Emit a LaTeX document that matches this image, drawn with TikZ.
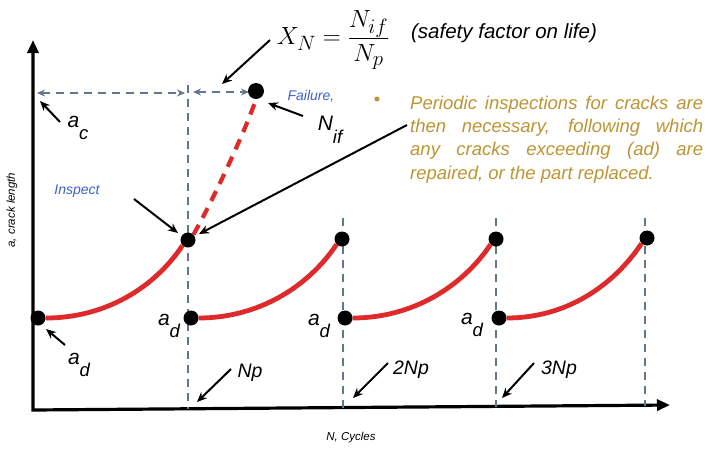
\documentclass[tikz,border=0pt]{standalone}
\usepackage{fontspec}
\setmainfont{Liberation Sans}
\usetikzlibrary{arrows.meta}
\definecolor{dashc}{RGB}{100,118,142}
\definecolor{crack}{RGB}{222,42,42}
\definecolor{gold}{RGB}{188,148,52}
\definecolor{lblue}{RGB}{62,96,205}
\newcommand\lsub[2]{#1\raisebox{-0.6em}{\fontsize{18.5}{18.5}\selectfont #2}}
\begin{document}
\begin{tikzpicture}[x=1pt,y=-1pt,
  dot/.style={circle,fill=black,inner sep=0pt,minimum size=15pt},
  guide/.style={draw=dashc,line width=2.5pt,dash pattern=on 8pt off 6pt},
  guidearrow/.style={guide,{Stealth[length=8pt,width=7pt]}-{Stealth[length=8pt,width=7pt]}},
  crackline/.style={draw=crack,line width=4.8pt},
  crackdash/.style={draw=crack,line width=4.2pt,dash pattern=on 11pt off 8pt},
  pointer/.style={draw=black,line width=2pt,-{Stealth[length=10pt,width=8.5pt]}},
  axisline/.style={line width=3.2pt,line join=miter,{Triangle[length=13pt,width=11pt]}-{Triangle[length=13pt,width=11pt]}},
  lab/.style={inner sep=0pt,font=\fontsize{21}{23}\selectfont\itshape},
  nplab/.style={inner sep=0pt,font=\fontsize{19.5}{21}\selectfont\itshape},
  bluelab/.style={inner sep=0pt,text=lblue,font=\fontsize{14}{15}\selectfont\itshape},
  smalllab/.style={inner sep=0pt,font=\fontsize{11.5}{12}\selectfont\itshape}]
\useasboundingbox (0,0) rectangle (710,448);

% axes
\coordinate (O) at (33,410);
\coordinate (ytip) at (33,40);
\coordinate (xtip) at (670,405);
\draw[axisline] (ytip) -- (O) -- (xtip);

% guide coordinates
\coordinate (g1t) at (188,85);  \coordinate (g1b) at (188,408.5);
\coordinate (g2t) at (343,218); \coordinate (g2b) at (343,407.5);
\coordinate (g3t) at (496,218); \coordinate (g3b) at (496,406.5);
\coordinate (g4t) at (645,218); \coordinate (g4b) at (645,405.5);
\draw[guide] (g1t) -- (g1b);
\draw[guide] (g2t) -- (g2b);
\draw[guide] (g3t) -- (g3b);
\draw[guide] (g4t) -- (g4b);

\coordinate (acL) at (37,93);
\coordinate (acR) at (185,93);
\coordinate (xnL) at (193,92);
\coordinate (xnR) at (249,92);
\draw[guidearrow] (acL) -- (acR);
\draw[guidearrow] (xnL) -- (xnR);

% dots
\node[dot] (d0) at (38,318) {};
\node[dot] (p1) at (188,240) {};
\node[dot] (d1) at (191,318) {};
\node[dot] (p2) at (342,239) {};
\node[dot] (d2) at (345,318) {};
\node[dot] (p3) at (496,239) {};
\node[dot] (d3) at (499,318) {};
\node[dot] (p4) at (647,238) {};
\node[dot,minimum size=16pt] (fail) at (256,91) {};

% crack curves
\draw[crackline] (d0.east) .. controls +(60,0) and +(-28,42) .. (p1.south west);
\draw[crackline] (d1.east) .. controls +(60,0) and +(-28,42) .. (p2.south west);
\draw[crackline] (d2.east) .. controls +(60,0) and +(-28,42) .. (p3.south west);
\draw[crackline] (d3.east) .. controls +(60,0) and +(-28,42) .. (p4.south west);
\draw[crackdash] (p1.north east) .. controls +(20,-35) and +(-10,30) .. (fail.south);

% formula and texts
\node[inner sep=0pt,font=\fontsize{28}{30}\selectfont] (xn) at (333,40) {$\displaystyle X_N=\frac{N_{if}}{N_p}$};
\node[inner sep=0pt,font=\fontsize{20.5}{22}\selectfont\itshape] (sf) at (504,33) {(safety factor on life)};
\node[circle,fill=gold,inner sep=0pt,minimum size=5pt] (gd) at (377,99) {};
\node[anchor=north west,inner sep=0pt,text width=293pt,align=justify,text=gold,
  font=\fontsize{18.5}{23.4}\selectfont\itshape] (para) at (410,95.5)
  {\hyphenpenalty=10000 Periodic inspections for cracks are\linebreak then necessary, following which\linebreak any cracks exceeding (ad) are\linebreak repaired, or the part replaced.};

\node[bluelab] (fl) at (311,96) {Failure,};
\node[bluelab] (insp) at (77,191) {Inspect};

\node[lab] (ac) at (78,128) {\lsub{a}{c}};
\node[lab] (nif) at (330,130) {\lsub{N}{if}};
\node[lab] (ad0) at (79,365) {\lsub{a}{d}};
\node[lab] (ad1) at (169,326) {\lsub{a}{d}};
\node[lab] (ad2) at (319,326) {\lsub{a}{d}};
\node[lab] (ad3) at (472,325) {\lsub{a}{d}};
\node[nplab] (np1) at (250,373) {Np};
\node[nplab] (np2) at (411,370) {2Np};
\node[nplab] (np3) at (559,370) {3Np};

\node[smalllab,rotate=90] (ylab) at (12,210) {a, crack length};
\node[smalllab] (xlab) at (351,438) {N, Cycles};

% pointers
\coordinate (acS) at (60,122);   \coordinate (acT) at (40,101);
\coordinate (xnS) at (270,40);   \coordinate (xnT) at (222,84);
\coordinate (nifS) at (303,116); \coordinate (nifT) at (268,103);
\coordinate (paraS) at (407,125);\coordinate (paraT) at (199,234);
\coordinate (inS) at (134,199);  \coordinate (inT) at (178,233);
\coordinate (adS) at (65,345);   \coordinate (adT) at (46,329);
\coordinate (n1S) at (231,369);  \coordinate (n1T) at (197,402);
\coordinate (n2S) at (388,363);  \coordinate (n2T) at (353,398);
\coordinate (n3S) at (534,363);  \coordinate (n3T) at (502,398);
\draw[pointer] (acS) -- (acT);
\draw[pointer] (xnS) -- (xnT);
\draw[pointer] (nifS) -- (nifT);
\draw[pointer] (paraS) -- (paraT);
\draw[pointer] (inS) -- (inT);
\draw[pointer] (adS) -- (adT);
\draw[pointer] (n1S) -- (n1T);
\draw[pointer] (n2S) -- (n2T);
\draw[pointer] (n3S) -- (n3T);
\end{tikzpicture}
\end{document}
